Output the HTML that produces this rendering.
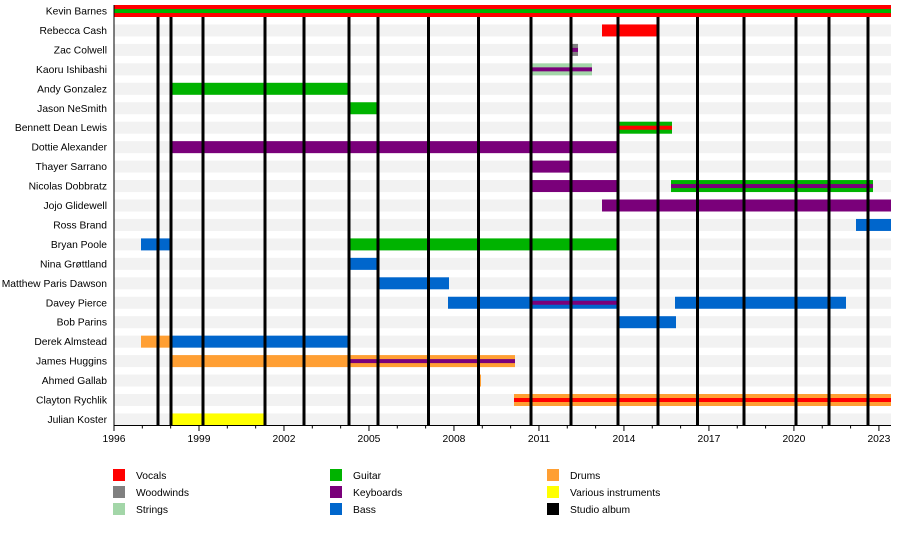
<!DOCTYPE html>
<html><head><meta charset="utf-8"><style>
html,body{margin:0;padding:0;background:#fff}
svg text{font-family:"Liberation Sans",Arial,sans-serif;font-size:10.3px;fill:#000}
</style></head><body>
<svg width="900" height="535" viewBox="0 0 900 535" xmlns="http://www.w3.org/2000/svg">
<g id="stripes" fill="#f2f2f2"></g>
<g id="bars"></g>
<g id="albums" stroke="#000" stroke-width="3"></g>
<g id="axis" stroke="#000" stroke-width="1"></g>
<g id="labels"></g>
<g id="legend"></g>
<script>
var NS="http://www.w3.org/2000/svg";
function el(p,t,a,txt){var e=document.createElementNS(NS,t);for(var k in a)e.setAttribute(k,a[k]);if(txt!==undefined)e.textContent=txt;document.getElementById(p).appendChild(e);return e;}
var names=["Kevin Barnes","Rebecca Cash","Zac Colwell","Kaoru Ishibashi","Andy Gonzalez","Jason NeSmith","Bennett Dean Lewis","Dottie Alexander","Thayer Sarrano","Nicolas Dobbratz","Jojo Glidewell","Ross Brand","Bryan Poole","Nina Grøttland","Matthew Paris Dawson","Davey Pierce","Bob Parins","Derek Almstead","James Huggins","Ahmed Gallab","Clayton Rychlik","Julian Koster"];
function cy(i){return 11+i*19.45;}
for(var i=0;i<22;i++){
 el("stripes","rect",{x:114,y:cy(i)-6,width:777,height:12});
 el("labels","text",{x:107,y:cy(i)+3.5,"text-anchor":"end"},names[i]);
}
var R="#ff0000",G="#00b300",P="#7a007a",B="#0066cc",O="#ff9f33",Y="#ffff00",W="#808080",S="#a3d6a8";
var bars=[
[0,114,891,R,G],[1,602,659,R],[2,571,578,W,P],[3,531,592,S,P],[4,171,349,G],[5,349,379,G],
[6,618,672,G,R],[7,171,618,P],[8,531,572,P],[9,531,618,P],[9,671,873,G,P],[10,602,891,P],
[11,856,891,B],[12,141,171,B],[12,349,618,G],[13,349,378,B],[14,378,449,B],[15,448,618,B],[15,675,846,B],
[16,618,676,B],[17,141,171,O],[17,171,349,B],[18,171,515,O],[19,477,481,O],[20,514,891,O,R],[21,171,266,Y]];
bars.forEach(function(b){var y=cy(b[0]);el("bars","rect",{x:b[1],y:y-6,width:b[2]-b[1],height:12,fill:b[3]});
 if(b[4])el("bars","rect",{x:b[1],y:y-2,width:b[2]-b[1],height:4,fill:b[4]});});
el("bars","rect",{x:531,y:cy(15)-2,width:87,height:4,fill:P});
el("bars","rect",{x:349,y:cy(18)-2,width:166,height:4,fill:P});
[158,171,203,265,304,349,378,428.5,478.5,531,571,618,658,697.5,744,796,829,868].forEach(function(x){
 el("albums","line",{x1:x,y1:17,x2:x,y2:425});});
el("axis","line",{x1:114,y1:5,x2:114,y2:425.5});
el("axis","line",{x1:113.5,y1:425.5,x2:891,y2:425.5});
for(var yr=0;yr<=27;yr++){var x=114+yr*28.33;var maj=yr%3==0;
 el("axis","line",{x1:x,y1:425.5,x2:x,y2:maj?431:428.5});
 if(maj)el("labels","text",{x:x,y:442,"text-anchor":"middle"},1996+yr);}
var leg=[[113,475,R,"Vocals"],[113,492,W,"Woodwinds"],[113,509,S,"Strings"],[330,475,G,"Guitar"],[330,492,P,"Keyboards"],[330,509,B,"Bass"],[547,475,O,"Drums"],[547,492,Y,"Various instruments"],[547,509,"#000","Studio album"]];
leg.forEach(function(l){el("legend","rect",{x:l[0],y:l[1]-6,width:12,height:12,fill:l[2]});
 el("legend","text",{x:l[0]+23,y:l[1]+4},l[3]);});
</script>
</svg>
</body></html>
